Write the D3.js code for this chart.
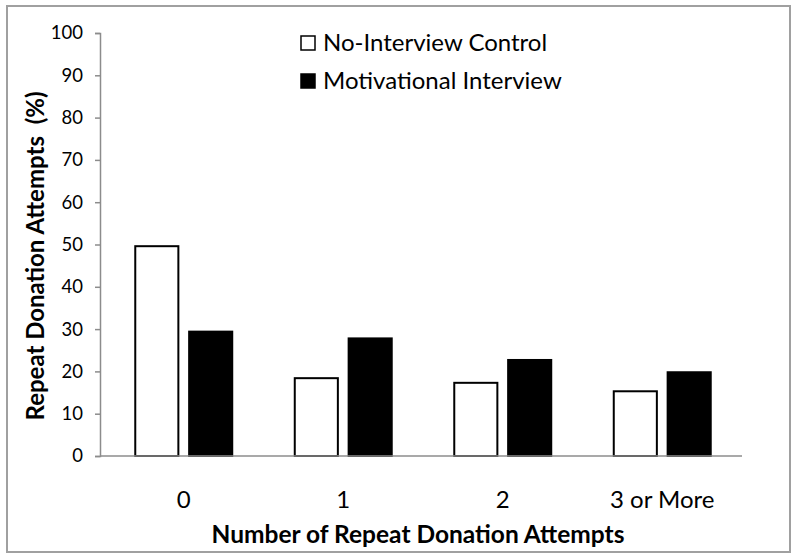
<!DOCTYPE html>
<html><head><meta charset="utf-8">
<script src="https://cdn.jsdelivr.net/npm/d3@7"></script>
<style>body{margin:0;background:#fff}svg{display:block}text{font-family:Lato,"Open Sans",sans-serif}</style>
</head><body>
<svg id="c" width="800" height="559"></svg>
<script>
const categories = ["0", "1", "2", "3 or More"];
const seriesNames = ["No-Interview Control", "Motivational Interview"];
const controlValues = [49.6, 18.4, 17.3, 15.3];
const interviewValues = [29.4, 27.8, 22.7, 19.8];
const yTicks = [0, 10, 20, 30, 40, 50, 60, 70, 80, 90, 100];

const svg = d3.select("#c");
svg.append("rect").attr("x", 7).attr("y", 6).attr("width", 783).attr("height", 546)
  .attr("fill", "#fff").attr("stroke", "#a0a0a0").attr("stroke-width", 2);

const y = d3.scaleLinear().domain([0, 100]).range([456, 33]);
const x0 = d3.scaleBand().domain(categories).range([104, 742]).padding(0);
const x1 = d3.scaleBand().domain(seriesNames)
  .range([x0.bandwidth() * 0.196, x0.bandwidth() * 0.804]).paddingInner(0.2);
const fills = ["#fff", "#000"];
const data = categories.map((c, i) => ({ c, vals: [controlValues[i], interviewValues[i]] }));

// y axis
const yAxis = svg.append("g").attr("transform", "translate(100,0)")
  .call(d3.axisLeft(y).tickValues(yTicks).tickSize(5).tickPadding(12));
yAxis.select(".domain").attr("stroke", "#8c8c8c").attr("stroke-width", 1.5);
yAxis.selectAll(".tick line").attr("stroke", "#8c8c8c").attr("stroke-width", 1.5);
yAxis.selectAll(".tick text").attr("font-size", 18.5).attr("fill", "#000")
  .attr("font-family", "Lato, sans-serif");

// bars
const groups = svg.append("g").selectAll("g").data(data).join("g")
  .attr("transform", d => `translate(${x0(d.c)},0)`);
groups.selectAll("rect").data(d => d.vals.map((v, j) => ({ s: seriesNames[j], v, j })))
  .join("rect")
  .attr("x", d => x1(d.s)).attr("width", x1.bandwidth())
  .attr("y", d => y(d.v)).attr("height", d => y(0) - y(d.v))
  .attr("fill", d => fills[d.j]).attr("stroke", "#000").attr("stroke-width", 2);

// x axis
const xAxis = svg.append("g").attr("transform", "translate(0,456)")
  .call(d3.axisBottom(x0).tickSize(0).tickPadding(35));
xAxis.select(".domain").attr("d", "M100,0H742").attr("stroke", "#8c8c8c").attr("stroke-width", 1.5);
xAxis.selectAll(".tick text").attr("font-size", 24).attr("fill", "#000")
  .attr("font-family", "Lato, sans-serif");

// axis titles
svg.append("text").attr("x", 418).attr("y", 543).attr("text-anchor", "middle")
  .attr("font-size", 24.5).attr("font-weight", "bold").text("Number of Repeat Donation Attempts");
svg.append("text").attr("transform", "translate(44,256) rotate(-90)").attr("text-anchor", "middle")
  .attr("font-size", 24).attr("font-weight", "bold")
  .style("white-space", "pre").text("Repeat Donation Attempts  (%)");

// legend
const leg = svg.append("g").selectAll("g").data(seriesNames).join("g")
  .attr("transform", (d, i) => `translate(301,${36 + i * 38})`);
leg.append("rect").attr("width", 14).attr("height", 14)
  .attr("fill", (d, i) => fills[i]).attr("stroke", "#000").attr("stroke-width", 1.5);
leg.append("text").attr("x", 22).attr("y", 15).attr("font-size", 24).attr("fill", "#000").text(d => d);
</script>
</body></html>
